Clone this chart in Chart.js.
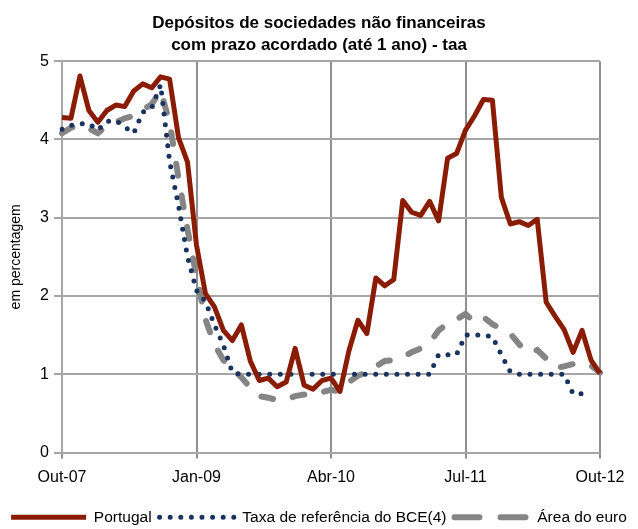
<!DOCTYPE html>
<html>
<head>
<meta charset="utf-8">
<script src="https://cdn.jsdelivr.net/npm/chart.js@4.4.1/dist/chart.umd.min.js"></script>
<style>
  html, body { margin: 0; padding: 0; background: #fff; }
  #wrap { width: 638px; height: 529px; }
</style>
</head>
<body>
<div id="wrap"><canvas id="depositosChart"></canvas></div>
<script>
// meses de Out-07 a Out-12
const meses = [
  'Out-07', 'Nov-07', 'Dez-07',
  'Jan-08', 'Fev-08', 'Mar-08', 'Abr-08', 'Mai-08', 'Jun-08', 'Jul-08', 'Ago-08', 'Set-08', 'Out-08', 'Nov-08', 'Dez-08',
  'Jan-09', 'Fev-09', 'Mar-09', 'Abr-09', 'Mai-09', 'Jun-09', 'Jul-09', 'Ago-09', 'Set-09', 'Out-09', 'Nov-09', 'Dez-09',
  'Jan-10', 'Fev-10', 'Mar-10', 'Abr-10', 'Mai-10', 'Jun-10', 'Jul-10', 'Ago-10', 'Set-10', 'Out-10', 'Nov-10', 'Dez-10',
  'Jan-11', 'Fev-11', 'Mar-11', 'Abr-11', 'Mai-11', 'Jun-11', 'Jul-11', 'Ago-11', 'Set-11', 'Out-11', 'Nov-11', 'Dez-11',
  'Jan-12', 'Fev-12', 'Mar-12', 'Abr-12', 'Mai-12', 'Jun-12', 'Jul-12', 'Ago-12', 'Set-12', 'Out-12'
];

const portugal = [
  4.28, 4.27, 4.81, 4.37, 4.22, 4.37, 4.44, 4.42, 4.62, 4.71, 4.66, 4.80, 4.77, 4.02, 3.71,
  2.65, 2.03, 1.86, 1.56, 1.43, 1.63, 1.17, 0.92, 0.95, 0.84, 0.90, 1.33, 0.86, 0.81, 0.92,
  0.95, 0.78, 1.30, 1.69, 1.52, 2.23, 2.13, 2.21, 3.22, 3.07, 3.03, 3.21, 2.96, 3.76, 3.82,
  4.12, 4.30, 4.51, 4.50, 3.26, 2.92, 2.95, 2.90, 2.98, 1.92, 1.74, 1.57, 1.28, 1.56, 1.18,
  1.01
];

const taxaBCE = [
  4.13, 4.18, 4.20, 4.20, 4.12, 4.23, 4.24, 4.16, 4.08, 4.35, 4.40, 4.70, 3.72, 3.15, 2.50,
  2.07, 1.93, 1.63, 1.37, 1.02, 1.00, 1.00, 1.00, 1.00, 1.00, 1.00, 1.00, 1.00, 1.00, 1.00,
  1.00, 1.00, 1.00, 1.00, 1.00, 1.00, 1.00, 1.00, 1.00, 1.00, 1.00, 1.00, 1.25, 1.25, 1.25,
  1.50, 1.50, 1.50, 1.48, 1.25, 1.03, 1.00, 1.00, 1.00, 1.00, 1.00, 1.00, 0.75, 0.75, 0.75,
  null
];

const areaEuro = [
  4.08, 4.15, 4.18, 4.14, 4.08, 4.18, 4.22, 4.27, 4.30, 4.38, 4.45, 4.62, 4.22, 3.50, 2.85,
  2.25, 1.70, 1.38, 1.18, 1.07, 0.96, 0.83, 0.72, 0.70, 0.67, 0.68, 0.72, 0.74, 0.75, 0.77,
  0.80, 0.78, 0.90, 0.98, 1.03, 1.10, 1.17, 1.18, 1.22, 1.28, 1.33, 1.40, 1.56, 1.65, 1.70,
  1.77, 1.67, 1.73, 1.64, 1.58, 1.52, 1.38, 1.27, 1.31, 1.20, 1.08, 1.10, 1.13, 1.13, 1.11,
  1.02
];

const rotulosX = ['Out-07', 'Jan-09', 'Abr-10', 'Jul-11', 'Out-12'];

const fonte = "'Liberation Sans', Arial, sans-serif";

// traço de cada série na legenda (o estilo do ponto não traz o tracejado)
const tracoLegenda = {
  'Portugal': { lineDash: [], lineCap: 'butt' },
  'Taxa de referência do BCE(4)': { lineDash: [0, 10.6], lineCap: 'round' },
  'Área do euro': { lineDash: [25, 21], lineCap: 'round' }
};

const marcado = idx => rotulosX.includes(meses[idx]);

new Chart(document.getElementById('depositosChart'), {
  type: 'line',
  data: {
    labels: meses,
    datasets: [
      {
        label: 'Portugal',
        data: portugal,
        borderColor: '#8b1c04',
        borderWidth: 5,
        borderJoinStyle: 'round',
        pointRadius: 0,
        tension: 0
      },
      {
        label: 'Taxa de referência do BCE(4)',
        data: taxaBCE,
        borderColor: '#1a3260',
        borderWidth: 5,
        borderDash: [0, 10.6],
        borderCapStyle: 'round',
        pointRadius: 0,
        tension: 0
      },
      {
        label: 'Área do euro',
        data: areaEuro,
        borderColor: '#858585',
        borderWidth: 6,
        borderDash: [12, 20],
        borderCapStyle: 'round',
        pointRadius: 0,
        tension: 0
      }
    ]
  },
  options: {
    responsive: true,
    maintainAspectRatio: false,
    animation: false,
    layout: { padding: { left: 0, right: 0, top: 0, bottom: -6 } },
    plugins: {
      title: {
        display: true,
        text: ['Depósitos de sociedades não financeiras', 'com prazo acordado (até 1 ano) - taa'],
        color: '#000',
        font: { family: fonte, size: 17, weight: 'bold', lineHeight: 1.3 },
        padding: { top: 12, bottom: 5 }
      },
      legend: {
        position: 'bottom',
        labels: {
          color: '#000',
          font: { family: fonte, size: 15.5 },
          usePointStyle: true,
          pointStyle: 'line',
          pointStyleWidth: 75,
          padding: 8,
          generateLabels(chart) {
            const itens = Chart.defaults.plugins.legend.labels.generateLabels(chart);
            itens.forEach(item => Object.assign(item, tracoLegenda[item.text]));
            return itens;
          }
        }
      },
      tooltip: { enabled: false }
    },
    scales: {
      x: {
        afterFit(scale) { scale.height = 49; },
        grid: {
          color: ctx => marcado(ctx.index) ? '#8f8f8f' : 'rgba(0,0,0,0)',
          tickColor: ctx => marcado(ctx.index) ? '#8f8f8f' : 'rgba(0,0,0,0)',
          lineWidth: 2,
          tickLength: 6
        },
        border: { color: '#a6a6a6', width: 2 },
        ticks: {
          autoSkip: false,
          maxRotation: 0,
          color: '#000',
          font: { family: fonte, size: 16 },
          padding: 9,
          callback(v, i) { return marcado(i) ? meses[i] : ''; }
        }
      },
      y: {
        min: 0,
        max: 5,
        afterFit(scale) { scale.width = 62; },
        grid: { color: '#a6a6a6', lineWidth: 2, tickLength: 8 },
        border: { color: '#a6a6a6', width: 2 },
        ticks: {
          stepSize: 1,
          color: '#000',
          font: { family: fonte, size: 16 },
          padding: 5
        },
        title: {
          display: true,
          text: 'em percentagem',
          color: '#000',
          font: { family: fonte, size: 14 },
          padding: { top: 8, bottom: 0 }
        }
      },
      // eixo vazio à direita, só para reservar a margem
      margem: {
        axis: 'y',
        position: 'right',
        afterFit(scale) { scale.width = 38; },
        grid: { display: false },
        border: { display: false },
        ticks: { display: false }
      }
    }
  }
});
</script>
</body>
</html>
